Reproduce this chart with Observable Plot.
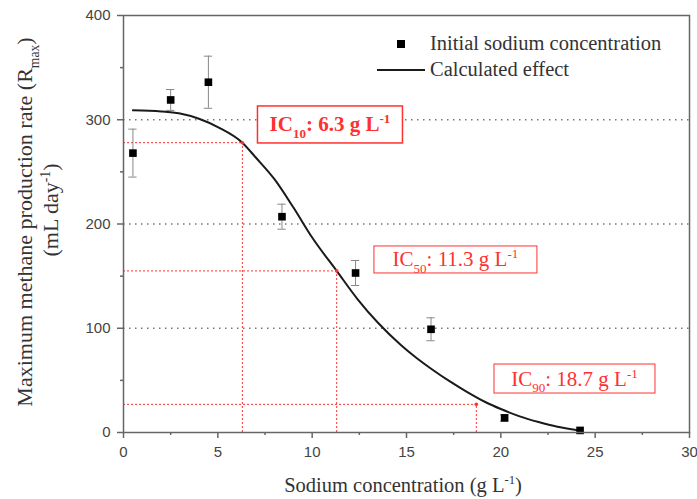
<!DOCTYPE html>
<html>
<head>
<meta charset="utf-8">
<script src="https://cdn.jsdelivr.net/npm/d3@7"></script>
<script src="https://cdn.jsdelivr.net/npm/@observablehq/plot@0.6"></script>
<style>
  html, body { margin: 0; padding: 0; background: #fff; }
</style>
</head>
<body>
<div id="chart"></div>
<script>
// Initial sodium concentration (g/L) vs. maximum methane production rate (mL/day)
const sodium  = [0.5, 2.5, 4.5, 8.4, 12.3, 16.3, 20.2, 24.2];
const rate    = [268, 319, 336, 207, 153, 99, 14, 2];
const rateErr = [23, 10, 25, 12, 12, 11, 3, 0];

// Calculated effect curve
const curveX = [0.5, 2, 3, 4, 5, 6.3, 7, 8, 9, 10, 11.3, 12.4, 13.5, 14.7, 15.5, 16.4, 17.3, 18.2, 19.2, 20, 21, 22, 23, 24.2];
const curveY = [309, 308, 306, 301, 293, 278, 264, 243, 216, 187, 155, 128, 105, 84, 72, 60, 49, 39, 29, 22.5, 15.5, 10, 5.5, 2];

// Inhibitory concentrations
const icLevel = ["10", "50", "90"];
const icConc  = [6.3, 11.3, 18.7];
const icRate  = [278, 155, 27];

// Axis ticks
const xMajor = [0, 5, 10, 15, 20, 25, 30];
const xMinor = [2.5, 7.5, 12.5, 17.5, 22.5, 27.5];
const yMajor = [0, 100, 200, 300, 400];
const yMinor = [50, 150, 250, 350];
const gridY  = [100, 200, 300];

const pts = sodium.map((x, i) => ({x, y: rate[i], lo: rate[i] - rateErr[i], hi: rate[i] + rateErr[i], err: rateErr[i]}));
const bars = pts.filter(d => d.err > 0);
const curve = curveX.map((x, i) => ({x, y: curveY[i]}));
const ic = icLevel.map((lvl, i) => ({lvl, x: icConc[i], y: icRate[i]}));

const red = "#ff3030";
const capHalf = 0.22; // half width of error-bar caps, in g/L

const chart = Plot.plot({
  width: 697,
  height: 499,
  marginLeft: 123,
  marginRight: 8,
  marginTop: 15,
  marginBottom: 67,
  x: {domain: [0, 30]},
  y: {domain: [0, 400]},
  style: {
    fontFamily: "'Liberation Sans', Arial, sans-serif",
    fontSize: "15px",
    background: "#fff",
    color: "#444"
  },
  marks: [
    Plot.ruleY(gridY, {stroke: "#777", strokeWidth: 1.5, strokeDasharray: "1.5,4.5"}),
    Plot.ruleY(ic, {y: "y", x1: 0, x2: "x", stroke: red, strokeWidth: 1, strokeDasharray: "2,2"}),
    Plot.ruleX(ic, {x: "x", y1: 0, y2: "y", stroke: red, strokeWidth: 1, strokeDasharray: "2,2"}),
    Plot.line(curve, {x: "x", y: "y", curve: "monotone-x", stroke: "#1a1a1a", strokeWidth: 2}),
    Plot.dot(ic, {x: "x", y: "y", r: 1.8, fill: red}),
    Plot.ruleX(bars, {x: "x", y1: "lo", y2: "hi", stroke: "#888", strokeWidth: 1}),
    Plot.ruleY(bars, {y: "hi", x1: d => d.x - capHalf, x2: d => d.x + capHalf, stroke: "#888", strokeWidth: 1}),
    Plot.ruleY(bars, {y: "lo", x1: d => d.x - capHalf, x2: d => d.x + capHalf, stroke: "#888", strokeWidth: 1}),
    Plot.dot(pts, {x: "x", y: "y", symbol: "square", r: 4.3, fill: "#000", stroke: null}),
    Plot.axisX({ticks: xMajor, tickSize: 6, tickPadding: 8, label: null, stroke: "#666", strokeWidth: 1.5, fill: "#444"}),
    Plot.axisX({ticks: xMinor, tickSize: 3, tickFormat: () => "", label: null, stroke: "#666", strokeWidth: 1.5}),
    Plot.axisY({ticks: yMajor, tickSize: 6, tickPadding: 7, label: null, stroke: "#666", strokeWidth: 1.5, fill: "#444"}),
    Plot.axisY({ticks: yMinor, tickSize: 3, tickFormat: () => "", label: null, stroke: "#666", strokeWidth: 1.5}),
    Plot.frame({stroke: "#666", strokeWidth: 1.5})
  ]
});

document.getElementById("chart").append(chart);

// Text with sub/superscripts built from tspans
function richText(parent, parts, size) {
  const t = parent.append("text").attr("font-size", size);
  let shift = 0;
  for (const p of parts) {
    const target = p.sub ? size * 0.3 : p.sup ? -size * 0.38 : 0;
    t.append("tspan")
      .attr("dy", target - shift)
      .attr("font-size", (p.sub || p.sup) ? size * 0.62 : size)
      .text(p.t);
    shift = target;
  }
  return t;
}

const svg = d3.select(chart);
const sx = chart.scale("x"), sy = chart.scale("y");
const serif = "'Liberation Serif', 'Times New Roman', serif";

// IC annotation boxes (centre in data units, box size in px)
const boxes = [
  {cx: 10.97, cy: 295, w: 145, h: 37, bold: true},
  {cx: 17.62, cy: 165.5, w: 163, h: 27, bold: false},
  {cx: 23.93, cy: 51.3, w: 161, h: 29, bold: false}
];
const ann = svg.append("g").attr("font-family", serif).attr("fill", red);
ic.forEach((d, i) => {
  const b = boxes[i];
  const px = sx.apply(b.cx), py = sy.apply(b.cy);
  ann.append("rect")
    .attr("x", px - b.w / 2).attr("y", py - b.h / 2)
    .attr("width", b.w).attr("height", b.h)
    .attr("fill", "#fff").attr("stroke", red).attr("stroke-width", b.bold ? 1.5 : 1);
  const t = richText(ann, [
    {t: "IC"}, {t: d.lvl, sub: true}, {t: `: ${d.x} g L`}, {t: "-1", sup: true}
  ], 21);
  t.attr("x", px).attr("y", py + 7).attr("text-anchor", "middle")
   .attr("font-weight", b.bold ? "bold" : "normal");
});

// Legend
const leg = svg.append("g").attr("font-family", serif).attr("fill", "#333").attr("text-anchor", "start");
leg.append("rect").attr("x", 397).attr("y", 40).attr("width", 8).attr("height", 8).attr("fill", "#000");
leg.append("text").attr("x", 430).attr("y", 50).attr("font-size", 20.5).text("Initial sodium concentration");
leg.append("line").attr("x1", 377).attr("x2", 425).attr("y1", 70).attr("y2", 70)
  .attr("stroke", "#1a1a1a").attr("stroke-width", 2);
leg.append("text").attr("x", 430).attr("y", 76).attr("font-size", 20.5).text("Calculated effect");

// Axis titles
const titles = svg.append("g").attr("font-family", serif).attr("fill", "#333");
richText(titles, [{t: "Sodium concentration (g L"}, {t: "-1", sup: true}, {t: ")"}], 20.5)
  .attr("x", 403).attr("y", 492).attr("text-anchor", "middle");
richText(titles, [{t: "Maximum methane production rate (R"}, {t: "max", sub: true}, {t: ")"}], 22)
  .attr("text-anchor", "middle").attr("transform", "translate(32,222) rotate(-90)");
richText(titles, [{t: "(mL day"}, {t: "-1", sup: true}, {t: ")"}], 22)
  .attr("text-anchor", "middle").attr("transform", "translate(58,210) rotate(-90)");
</script>
</body>
</html>
